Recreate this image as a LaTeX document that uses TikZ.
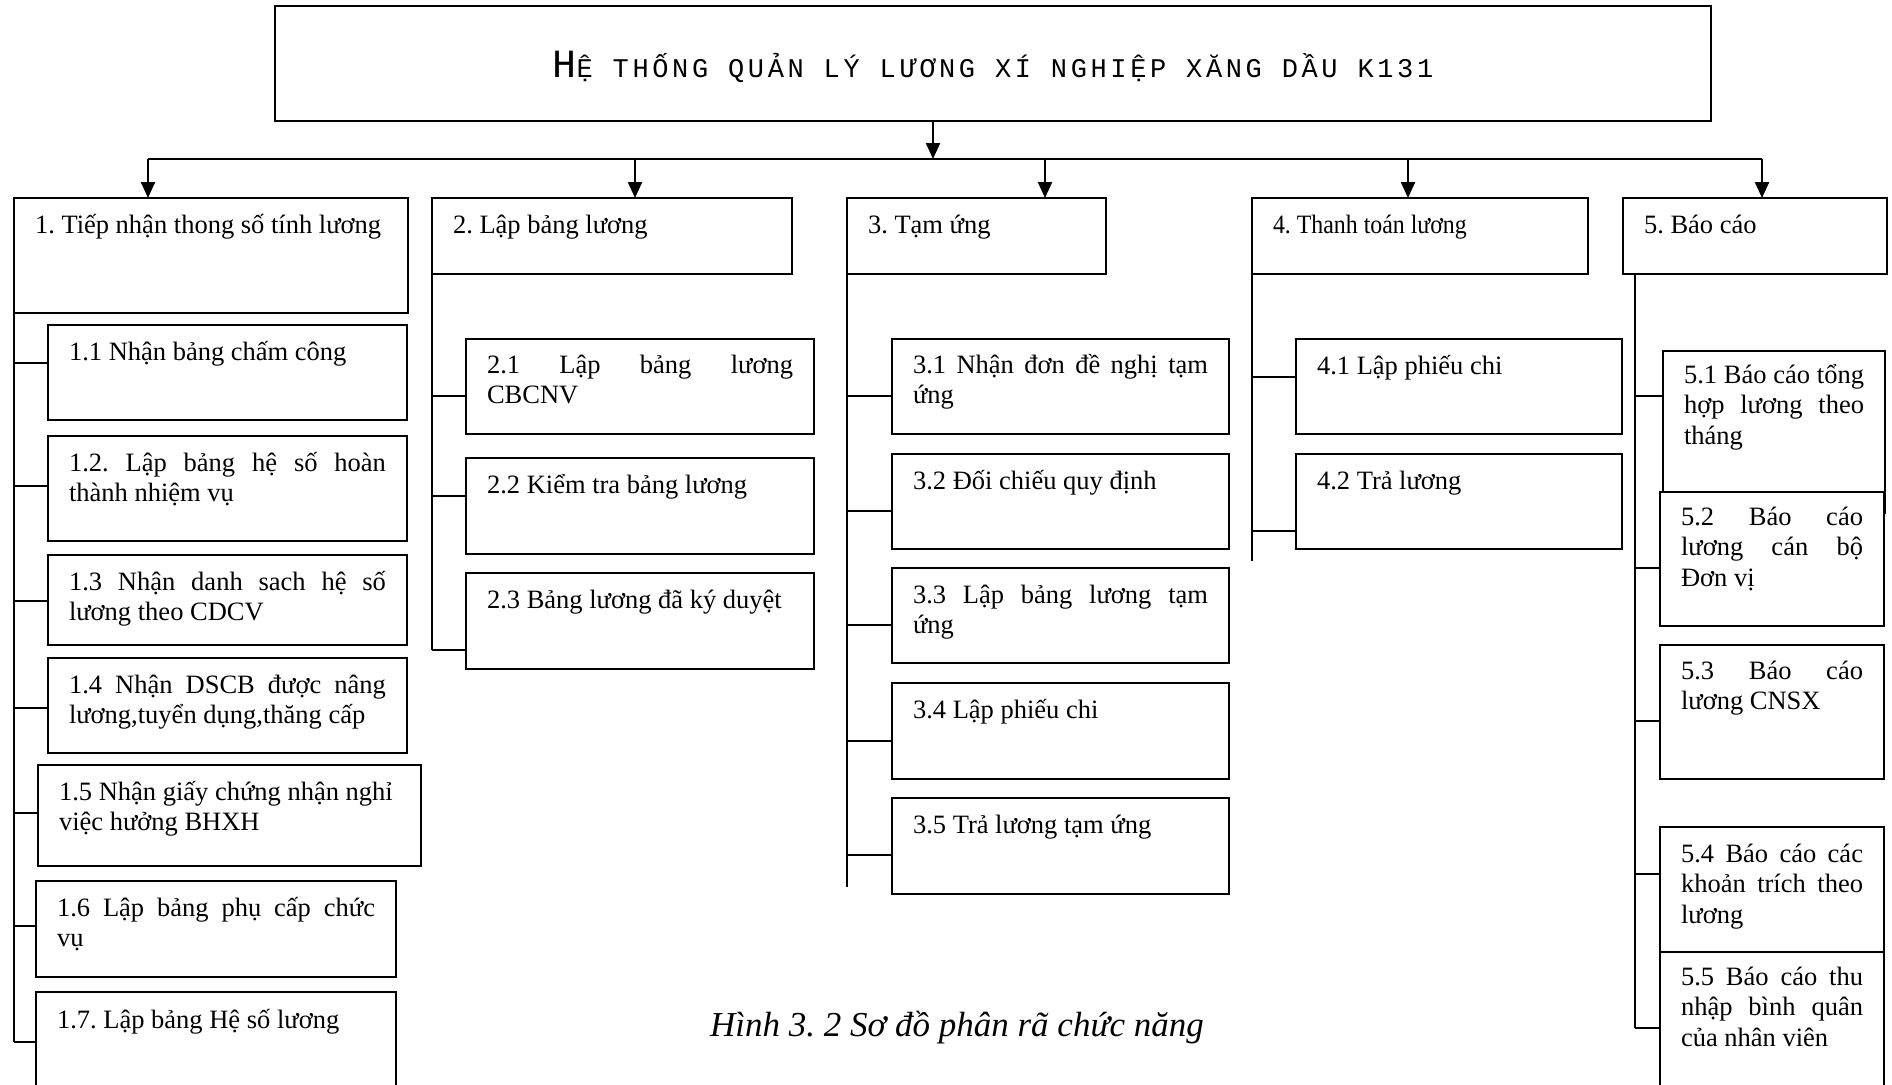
\documentclass[tikz,border=0pt]{standalone}
\usepackage{fontspec}
\usepackage{graphicx}
\setmainfont{Liberation Serif}
\newfontfamily\titlefont{Liberation Mono}
\usetikzlibrary{arrows.meta}

% justified line of a box text (width of the text column in \tw)
\newcommand\J[1]{\makebox[\tw pt][s]{#1}}

% \mkbox{name}{x1}{y1}{x2}{y2}{baseline drop}{text}
\newcommand\mkbox[7]{%
  \pgfmathsetmacro\bw{#4-#2}%
  \pgfmathsetmacro\bh{#5-#3}%
  \pgfmathsetmacro\tw{#4-#2-42}%
  \pgfmathsetmacro\twx{#4-#2-22}%
  \node[box, minimum width=\bw pt, minimum height=\bh pt] (#1) at (#2,#3) {};
  \node[txt, text width=\twx pt] (#1t) at ([xshift=21pt,yshift=-#6pt]#1.north west) {#7};
}

% \branch{trunk}{child}{vertical shift of the branch}
\newcommand\branch[3]{%
  \path ([yshift=#3]#2.west) coordinate (#2br);
  \draw[ln] (#1 |- #2br) -- (#2br);
}

\begin{document}
\frenchspacing
\begin{tikzpicture}[x=1pt,y=-1pt,
  box/.style={draw, line width=2.2pt, fill=white, inner sep=0pt, outer sep=0pt, anchor=north west},
  txt/.style={inner sep=0pt, outer sep=0pt, anchor=base west, align=flush left,
              font=\fontsize{26.5}{30.5}\selectfont},
  ln/.style={line width=2.2pt},
  arr/.style={line width=2.2pt, -{Triangle[length=16pt,width=14pt]}}]

\fill[white] (0,0) rectangle (1892,1084);
\useasboundingbox (0,0) rectangle (1892,1084);

% system box
\node[box, minimum width=1436pt, minimum height=115pt] (top) at (275,6) {};
\node[anchor=base, inner sep=0pt] (ttl) at (993,77)
  {\titlefont{\fontsize{40}{40}\selectfont H}{\fontsize{27}{27}\selectfont\addfontfeature{LetterSpace=13.5}Ệ THỐNG QUẢN LÝ LƯƠNG XÍ NGHIỆP XĂNG DẦU K131}};

% main functions
\mkbox{n1}{14}{198}{408}{313}{35}{1. Tiếp nhận thong số tính lương}
\mkbox{n2}{432}{198}{792}{274}{35}{2. Lập bảng lương}
\mkbox{n3}{847}{198}{1106}{274}{35}{3. Tạm ứng}
\mkbox{n4}{1252}{198}{1588}{274}{35}{\scalebox{0.9}[1]{4. Thanh toán lương}}
\mkbox{n5}{1623}{198}{1887}{274}{35}{5. Báo cáo}

% group 1
\mkbox{b11}{48}{325}{407}{420}{35}{1.1 Nhận bảng chấm công}
\mkbox{b12}{48}{436}{407}{541}{35}{\J{1.2. Lập bảng hệ số hoàn}\\thành nhiệm vụ}
\mkbox{b13}{48}{555}{407}{645}{35}{\J{1.3 Nhận danh sach hệ số}\\lương theo CDCV}
\mkbox{b14}{48}{658}{407}{753}{35}{\J{1.4 Nhận DSCB được nâng}\\lương,tuyển dụng,thăng cấp}
\mkbox{b15}{38}{765}{421}{866}{35}{1.5 Nhận giấy chứng nhận nghỉ\\việc hưởng BHXH}
\mkbox{b16}{36}{881}{396}{977}{35}{\J{1.6 Lập bảng phụ cấp chức}\\vụ}
\mkbox{b17}{36}{992}{396}{1094}{36}{1.7. Lập bảng Hệ số lương}

% group 2
\mkbox{b21}{466}{339}{814}{434}{34}{\J{2.1 Lập bảng lương}\\CBCNV}
\mkbox{b22}{466}{458}{814}{554}{35}{2.2 Kiểm tra bảng lương}
\mkbox{b23}{466}{573}{814}{669}{35}{2.3 Bảng lương đã ký duyệt}

% group 3
\mkbox{b31}{892}{339}{1229}{434}{34}{\J{3.1 Nhận đơn đề nghị tạm}\\ứng}
\mkbox{b32}{892}{454}{1229}{549}{35}{3.2 Đối chiếu quy định}
\mkbox{b33}{892}{568}{1229}{663}{35}{\J{3.3 Lập bảng lương tạm}\\ứng}
\mkbox{b34}{892}{683}{1229}{779}{35}{3.4 Lập phiếu chi}
\mkbox{b35}{892}{798}{1229}{894}{35}{3.5 Trả lương tạm ứng}

% group 4
\mkbox{b41}{1296}{339}{1622}{434}{35}{4.1 Lập phiếu chi}
\mkbox{b42}{1296}{454}{1622}{549}{35}{4.2 Trả lương}

% group 5
\mkbox{b51}{1663}{351}{1885}{513}{32}{\J{5.1 Báo cáo tổng}\\\J{hợp lương theo}\\tháng}
\mkbox{b52}{1660}{492}{1884}{626}{33}{\J{5.2 Báo cáo}\\\J{lương cán bộ}\\Đơn vị}
\mkbox{b53}{1660}{645}{1884}{779}{34}{\J{5.3 Báo cáo}\\lương CNSX}
\mkbox{b54}{1660}{827}{1884}{952}{35}{\J{5.4 Báo cáo các}\\\J{khoản trích theo}\\lương}
\mkbox{b55}{1660}{952}{1884}{1094}{33}{\J{5.5 Báo cáo thu}\\\J{nhập bình quân}\\của nhân viên}

% distribution bus and arrows
\coordinate (bus1) at (148,159);
\coordinate (bus2) at (635,159);
\coordinate (bus3) at (1045,159);
\coordinate (bus4) at (1408,159);
\coordinate (bus5) at (1762,159);
\draw[ln] (bus1) -- (bus5);
\draw[arr] ([xshift=-60pt]top.south) -- ([xshift=-60pt]top.south |- bus1);
\draw[arr] (bus1) -- (bus1 |- n1.north);
\draw[arr] (bus2) -- (bus2 |- n2.north);
\draw[arr] (bus3) -- (bus3 |- n3.north);
\draw[arr] (bus4) -- (bus4 |- n4.north);
\draw[arr] (bus5) -- (bus5 |- n5.north);

% trunks
\coordinate (tr1) at (n1.south west);
\coordinate (tr2) at (n2.south west);
\coordinate (tr3) at (n3.south west);
\coordinate (tr4) at (n4.south west);
\coordinate (tr5) at ([xshift=12pt]n5.south west);
\draw[ln] (tr1) -- ++(0,729);
\draw[ln] (tr2) -- ++(0,376);
\draw[ln] (tr3) -- ++(0,613);
\draw[ln] (tr4) -- ++(0,287);
\draw[ln] (tr5) -- ++(0,754);

% branches
\branch{tr1}{b11}{9.5pt}
\branch{tr1}{b12}{2.5pt}
\branch{tr1}{b13}{-1pt}
\branch{tr1}{b14}{-2.5pt}
\branch{tr1}{b15}{2.5pt}
\branch{tr1}{b16}{3pt}
\branch{tr1}{b17}{1pt}
\branch{tr2}{b21}{-9.5pt}
\branch{tr2}{b22}{10pt}
\branch{tr2}{b23}{-29pt}
\branch{tr3}{b31}{-9.5pt}
\branch{tr3}{b32}{-9.5pt}
\branch{tr3}{b33}{-9.5pt}
\branch{tr3}{b34}{-10pt}
\branch{tr3}{b35}{-9pt}
\branch{tr4}{b41}{9.5pt}
\branch{tr4}{b42}{-29.5pt}
\branch{tr5}{b51}{36pt}
\branch{tr5}{b52}{-9pt}
\branch{tr5}{b53}{-9pt}
\branch{tr5}{b54}{15.5pt}
\branch{tr5}{b55}{-5pt}

% caption
\node[anchor=base, inner sep=0pt, font=\fontsize{35}{40}\selectfont\itshape] (cap) at (957,1036)
  {Hình 3. 2 Sơ đồ phân rã chức năng};

\end{tikzpicture}
\end{document}
